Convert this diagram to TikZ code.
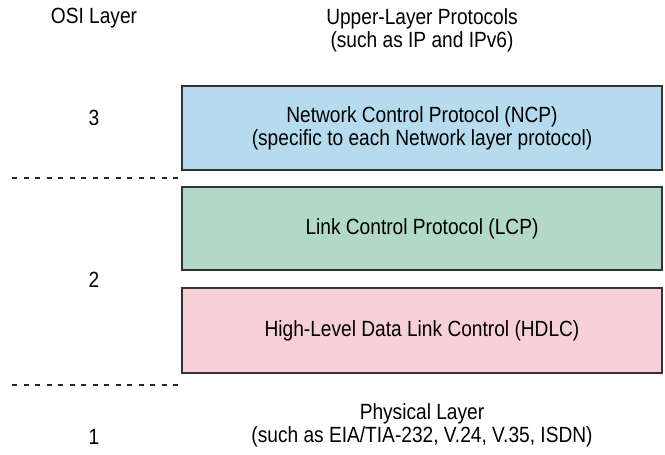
\documentclass[tikz,border=0pt]{standalone}
\usepackage{fontspec}
\setmainfont{Liberation Sans}[FakeStretch=0.87]
\definecolor{ncpblue}{RGB}{182,218,238}
\definecolor{lcpgreen}{RGB}{178,216,200}
\definecolor{hdlcpink}{RGB}{246,208,212}
\tikzset{
  layerbox/.style={draw=black!80, line width=1.3pt, minimum width=480pt, minimum height=84pt, align=center, inner sep=0pt},
  label/.style={align=center, inner sep=0pt},
  sep/.style={draw=black!85, line width=1.3pt, dash pattern=on 5pt off 6.5pt}
}
\begin{document}
\begin{tikzpicture}[x=1pt, y=-1pt, font=\fontsize{22}{23}\selectfont]
    \useasboundingbox (0,0) rectangle (665,455);

    % Intestazioni
    \node[label] (osi) at (94,18) {OSI Layer};
    \node[label] (upper) at (422,30) {Upper-Layer Protocols\\(such as IP and IPv6)};

    % Livello 3
    \node[layerbox, fill=ncpblue] (ncp) at (422,128) {Network Control Protocol (NCP)\\(specific to each Network layer protocol)};
    \node[label] (three) at (94,118) {3};

    % Separatore tra 3 e 2
    \coordinate (sa) at (12,178);
    \coordinate (sb) at (178,178);
    \draw[sep] (sa) -- (sb);

    % Livello 2
    \node[layerbox, fill=lcpgreen, minimum height=83pt] (lcp) at (422,228.5) {Link Control Protocol (LCP)};
    \node[layerbox, fill=hdlcpink, minimum height=85pt] (hdlc) at (422,330.5) {High-Level Data Link Control (HDLC)};
    \node[label] (two) at (94,280) {2};

    % Separatore tra 2 e 1
    \coordinate (sc) at (12,385);
    \coordinate (sd) at (178,385);
    \draw[sep] (sc) -- (sd);

    % Livello 1
    \node[label] (phys) at (422,425) {Physical Layer\\(such as EIA/TIA-232, V.24, V.35, ISDN)};
    \node[label] (one) at (94,437) {1};
\end{tikzpicture}
\end{document}
